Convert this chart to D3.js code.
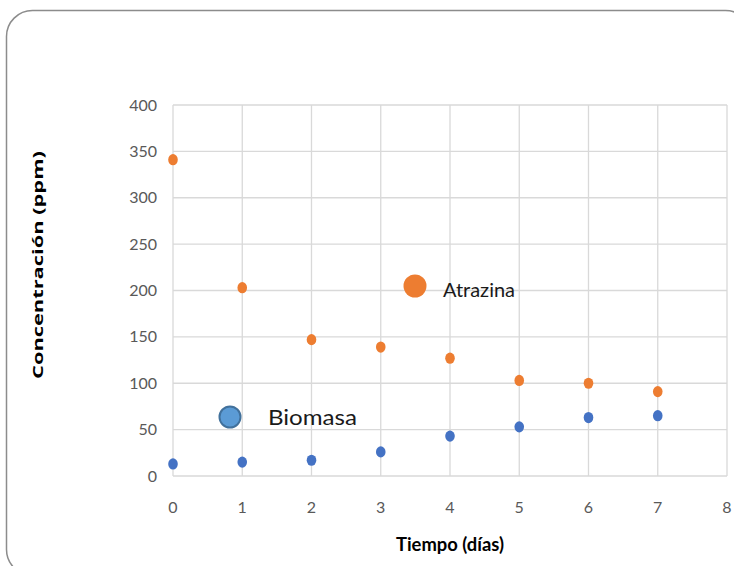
<!DOCTYPE html>
<html><head><meta charset="utf-8">
<script src="https://cdn.jsdelivr.net/npm/d3@7"></script>
<style>body{margin:0;background:#fff}</style>
</head><body>
<script>
const dias = [0,1,2,3,4,5,6,7];
const atrazina = [341,203,147,139,127,103,100,91];
const biomasa = [13,15,17,26,43,53,63,65];
const yTicks = [0,50,100,150,200,250,300,350,400];
const xTicks = [0,1,2,3,4,5,6,7,8];

const W=734,H=566;
const svg=d3.select("body").append("svg").attr("width",W).attr("height",H);
svg.append("rect").attr("x",6.5).attr("y",10.5).attr("width",745).attr("height",565)
  .attr("rx",26).attr("fill","#fff").attr("stroke","#8c8c8c").attr("stroke-width",1.5);

const x=d3.scaleLinear().domain([0,8]).range([173,727]);
const y=d3.scaleLinear().domain([0,400]).range([476,105]);
const font="Lato, 'Open Sans', sans-serif";

const g=svg.append("g");
g.selectAll("line.h").data(yTicks).join("line").attr("x1",x(0)).attr("x2",x(8))
  .attr("y1",d=>y(d)).attr("y2",d=>y(d)).attr("stroke","#d9d9d9").attr("stroke-width",1.3);
g.selectAll("line.v").data(xTicks).join("line").attr("y1",y(0)).attr("y2",y(400))
  .attr("x1",d=>x(d)).attr("x2",d=>x(d)).attr("stroke","#d9d9d9").attr("stroke-width",1.3);

g.selectAll("text.yt").data(yTicks).join("text").attr("x",157).attr("y",d=>y(d)+5.5)
  .attr("text-anchor","end").attr("font-family",font).attr("font-size",16).attr("fill","#595959").text(d=>d);
g.selectAll("text.xt").data(xTicks).join("text").attr("x",d=>x(d)).attr("y",513)
  .attr("text-anchor","middle").attr("font-family",font).attr("font-size",16).attr("fill","#595959").text(d=>d);

g.selectAll("ellipse.a").data(dias).join("ellipse").attr("cx",d=>x(d)).attr("cy",(d,i)=>y(atrazina[i]))
  .attr("rx",4.8).attr("ry",5.6).attr("fill","#ED7D31");
g.selectAll("ellipse.b").data(dias).join("ellipse").attr("cx",d=>x(d)).attr("cy",(d,i)=>y(biomasa[i]))
  .attr("rx",4.8).attr("ry",5.6).attr("fill","#4472C4");

// labels
svg.append("circle").attr("cx",415).attr("cy",286).attr("r",11.5).attr("fill","#ED7D31");
svg.append("text").attr("x",443).attr("y",297).attr("font-family",font).attr("font-size",19)
  .attr("textLength",72).attr("lengthAdjust","spacingAndGlyphs").attr("fill","#1a1a1a").text("Atrazina");
svg.append("circle").attr("cx",230).attr("cy",417).attr("r",10.5).attr("fill","#5B9BD5")
  .attr("stroke","#41719C").attr("stroke-width",2);
svg.append("text").attr("x",268).attr("y",425).attr("font-family",font).attr("font-size",20.5)
  .attr("textLength",89).attr("lengthAdjust","spacingAndGlyphs").attr("fill","#1a1a1a").text("Biomasa");

svg.append("text").attr("transform","translate(43,265) rotate(-90)").attr("text-anchor","middle")
  .attr("font-family","'Open Sans', sans-serif").attr("font-weight","bold").attr("font-size",15)
  .attr("textLength",228).attr("lengthAdjust","spacingAndGlyphs").text("Concentración (ppm)");
svg.append("text").attr("x",450).attr("y",551).attr("text-anchor","middle")
  .attr("font-family",font).attr("font-weight","bold").attr("font-size",18)
  .attr("textLength",108).attr("lengthAdjust","spacingAndGlyphs").text("Tiempo (días)");
</script>
</body></html>
